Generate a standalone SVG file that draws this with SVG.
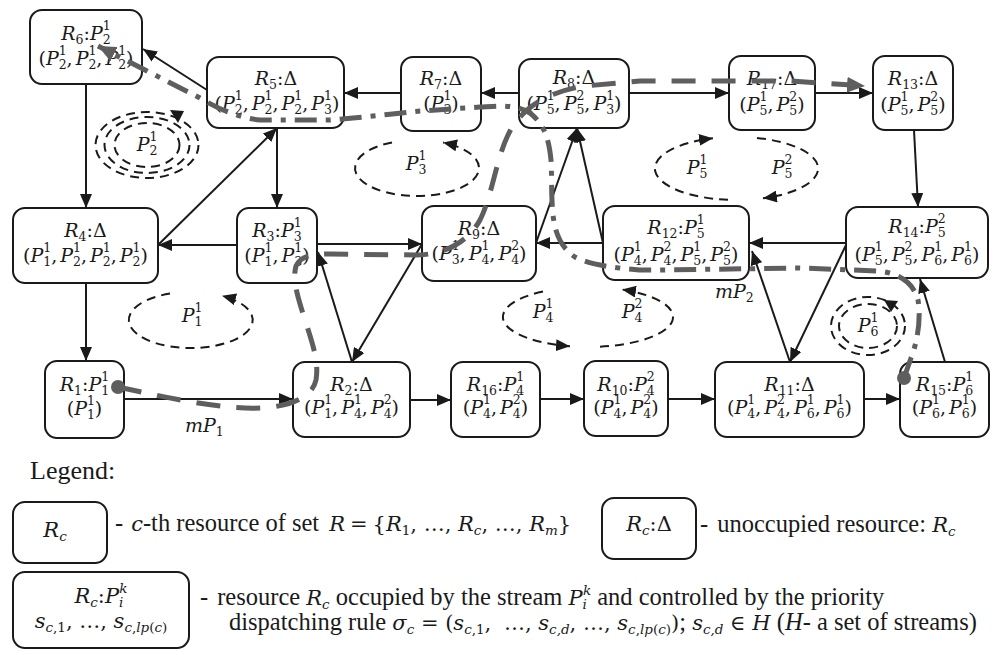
<svg xmlns="http://www.w3.org/2000/svg" width="995" height="655" viewBox="0 0 995 655">
<style>
.box{fill:#fff;stroke:#1a1a1a;stroke-width:2}
.t{font-family:"DejaVu Serif",serif;font-size:19px;text-anchor:middle;fill:#1a1a1a}
.i{font-style:italic}
.s{font-size:12.5px}
.e{fill:none;stroke:#1a1a1a;stroke-width:2;stroke-dasharray:9 6}
.ea{fill:none;stroke:#1a1a1a;stroke-width:2;stroke-dasharray:9 6;marker-end:url(#ah)}
.c{fill:none;stroke:#1a1a1a;stroke-width:2;marker-end:url(#ah)}
.g1{fill:none;stroke:#5e5e5e;stroke-width:5;stroke-dasharray:24 16;marker-end:url(#ga)}
.g2{fill:none;stroke:#5e5e5e;stroke-width:5;stroke-dasharray:22 9 5 9;marker-end:url(#ga)}
.lg{font-family:"Liberation Serif","Times New Roman",serif;font-size:24.5px;fill:#1a1a1a}
.lm{font-family:"DejaVu Serif",serif;font-size:21px}
.ls{font-size:13.5px}
</style>
<defs>
<marker id="ah" viewBox="0 0 14 12" refX="14" refY="6" markerWidth="14" markerHeight="12" orient="auto" markerUnits="userSpaceOnUse"><path d="M0,0 L14,6 L0,12 z" fill="#1a1a1a"/></marker>
<marker id="ga" viewBox="0 0 18 16" refX="18" refY="8" markerWidth="18" markerHeight="16" orient="auto" markerUnits="userSpaceOnUse"><path d="M0,0 L18,8 L0,16 z" fill="#5e5e5e"/></marker>
</defs>

<g id="connectors">
<path class="c" d="M207,90 L143,49"/>
<path class="c" d="M86,84 L86,208"/>
<path class="c" d="M158,245 L277,128"/>
<path class="c" d="M277,128 L277,208"/>
<path class="c" d="M237,245 L158,245"/>
<path class="c" d="M401,93 L344,93"/>
<path class="c" d="M519,93 L481,93"/>
<path class="c" d="M629,93 L729,93"/>
<path class="c" d="M815,93 L873,93"/>
<path class="c" d="M914,130 L918,207"/>
<path class="c" d="M846,243 L749,243"/>
<path class="c" d="M603,243 L536,243"/>
<path class="c" d="M536,243 L577,128"/>
<path class="c" d="M603,243 L577,128"/>
<path class="c" d="M317,244 L422,244"/>
<path class="c" d="M422,244 L352,362"/>
<path class="c" d="M352,362 L318,252"/>
<path class="c" d="M86,283 L86,361"/>
<path class="c" d="M124,399 L293,399"/>
<path class="c" d="M410,400 L451,400"/>
<path class="c" d="M540,399 L584,399"/>
<path class="c" d="M668,399 L715,399"/>
<path class="c" d="M864,399 L900,399"/>
<path class="c" d="M945,362 L920,279"/>
<path class="c" d="M846,245 L790,362"/>
<path class="c" d="M790,362 L752,251"/>
</g>

<g id="R6"><rect class="box" x="30" y="10" width="112" height="74" rx="12"/>
<text class="t" x="86" y="40"><tspan class="i">R</tspan><tspan class="s" dy="4">6</tspan><tspan dy="-4">:</tspan><tspan class="i">P</tspan><tspan class="s" dy="4">2</tspan><tspan class="s" dx="-8" dy="-14">1</tspan></text>
<text class="t" x="86" y="65">(<tspan class="i">P</tspan><tspan class="s" dy="4">2</tspan><tspan class="s" dx="-8" dy="-14">1</tspan><tspan dy="10">,</tspan><tspan class="i" dx="3">P</tspan><tspan class="s" dy="4">2</tspan><tspan class="s" dx="-8" dy="-14">1</tspan><tspan dy="10">,</tspan><tspan class="i" dx="3">P</tspan><tspan class="s" dy="4">2</tspan><tspan class="s" dx="-8" dy="-14">1</tspan><tspan dy="10">)</tspan></text></g>

<g id="R5"><rect class="box" x="207" y="57" width="137" height="71" rx="12"/>
<text class="t" x="276" y="85"><tspan class="i">R</tspan><tspan class="s" dy="4">5</tspan><tspan dy="-4">:Δ</tspan></text>
<text class="t" x="277" y="110">(<tspan class="i">P</tspan><tspan class="s" dy="4">2</tspan><tspan class="s" dx="-8" dy="-14">1</tspan><tspan dy="10">,</tspan><tspan class="i" dx="3">P</tspan><tspan class="s" dy="4">2</tspan><tspan class="s" dx="-8" dy="-14">1</tspan><tspan dy="10">,</tspan><tspan class="i" dx="3">P</tspan><tspan class="s" dy="4">2</tspan><tspan class="s" dx="-8" dy="-14">1</tspan><tspan dy="10">,</tspan><tspan class="i" dx="3">P</tspan><tspan class="s" dy="4">3</tspan><tspan class="s" dx="-8" dy="-14">1</tspan><tspan dy="10">)</tspan></text></g>

<g id="R7"><rect class="box" x="401" y="57" width="80" height="74" rx="12"/>
<text class="t" x="441" y="85"><tspan class="i">R</tspan><tspan class="s" dy="4">7</tspan><tspan dy="-4">:Δ</tspan></text>
<text class="t" x="441" y="110">(<tspan class="i">P</tspan><tspan class="s" dy="4">3</tspan><tspan class="s" dx="-8" dy="-14">1</tspan><tspan dy="10">)</tspan></text></g>

<g id="R8"><rect class="box" x="519" y="59" width="110" height="69" rx="12"/>
<text class="t" x="574" y="84"><tspan class="i">R</tspan><tspan class="s" dy="4">8</tspan><tspan dy="-4">:Δ</tspan></text>
<text class="t" x="574" y="110">(<tspan class="i">P</tspan><tspan class="s" dy="4">5</tspan><tspan class="s" dx="-8" dy="-14">1</tspan><tspan dy="10">,</tspan><tspan class="i" dx="3">P</tspan><tspan class="s" dy="4">5</tspan><tspan class="s" dx="-8" dy="-14">2</tspan><tspan dy="10">,</tspan><tspan class="i" dx="3">P</tspan><tspan class="s" dy="4">3</tspan><tspan class="s" dx="-8" dy="-14">1</tspan><tspan dy="10">)</tspan></text></g>

<g id="R17"><rect class="box" x="729" y="56" width="86" height="74" rx="12"/>
<text class="t" x="772" y="85"><tspan class="i">R</tspan><tspan class="s" dy="4">17</tspan><tspan dy="-4">:Δ</tspan></text>
<text class="t" x="772" y="111">(<tspan class="i">P</tspan><tspan class="s" dy="4">5</tspan><tspan class="s" dx="-8" dy="-14">1</tspan><tspan dy="10">,</tspan><tspan class="i" dx="3">P</tspan><tspan class="s" dy="4">5</tspan><tspan class="s" dx="-8" dy="-14">2</tspan><tspan dy="10">)</tspan></text></g>

<g id="R13"><rect class="box" x="873" y="56" width="80" height="74" rx="12"/>
<text class="t" x="913" y="85"><tspan class="i">R</tspan><tspan class="s" dy="4">13</tspan><tspan dy="-4">:Δ</tspan></text>
<text class="t" x="913" y="111">(<tspan class="i">P</tspan><tspan class="s" dy="4">5</tspan><tspan class="s" dx="-8" dy="-14">1</tspan><tspan dy="10">,</tspan><tspan class="i" dx="3">P</tspan><tspan class="s" dy="4">5</tspan><tspan class="s" dx="-8" dy="-14">2</tspan><tspan dy="10">)</tspan></text></g>

<g id="R4"><rect class="box" x="13" y="208" width="145" height="75" rx="12"/>
<text class="t" x="85.5" y="237"><tspan class="i">R</tspan><tspan class="s" dy="4">4</tspan><tspan dy="-4">:Δ</tspan></text>
<text class="t" x="85.5" y="262">(<tspan class="i">P</tspan><tspan class="s" dy="4">1</tspan><tspan class="s" dx="-8" dy="-14">1</tspan><tspan dy="10">,</tspan><tspan class="i" dx="3">P</tspan><tspan class="s" dy="4">2</tspan><tspan class="s" dx="-8" dy="-14">1</tspan><tspan dy="10">,</tspan><tspan class="i" dx="3">P</tspan><tspan class="s" dy="4">2</tspan><tspan class="s" dx="-8" dy="-14">1</tspan><tspan dy="10">,</tspan><tspan class="i" dx="3">P</tspan><tspan class="s" dy="4">2</tspan><tspan class="s" dx="-8" dy="-14">1</tspan><tspan dy="10">)</tspan></text></g>

<g id="R3"><rect class="box" x="237" y="208" width="80" height="75" rx="12"/>
<text class="t" x="277" y="237"><tspan class="i">R</tspan><tspan class="s" dy="4">3</tspan><tspan dy="-4">:</tspan><tspan class="i">P</tspan><tspan class="s" dy="4">3</tspan><tspan class="s" dx="-8" dy="-14">1</tspan></text>
<text class="t" x="277" y="262">(<tspan class="i">P</tspan><tspan class="s" dy="4">1</tspan><tspan class="s" dx="-8" dy="-14">1</tspan><tspan dy="10">,</tspan><tspan class="i" dx="3">P</tspan><tspan class="s" dy="4">3</tspan><tspan class="s" dx="-8" dy="-14">1</tspan><tspan dy="10">)</tspan></text></g>

<g id="R9"><rect class="box" x="422" y="206" width="114" height="75" rx="12"/>
<text class="t" x="479" y="235"><tspan class="i">R</tspan><tspan class="s" dy="4">9</tspan><tspan dy="-4">:Δ</tspan></text>
<text class="t" x="479" y="260">(<tspan class="i">P</tspan><tspan class="s" dy="4">3</tspan><tspan class="s" dx="-8" dy="-14">1</tspan><tspan dy="10">,</tspan><tspan class="i" dx="3">P</tspan><tspan class="s" dy="4">4</tspan><tspan class="s" dx="-8" dy="-14">1</tspan><tspan dy="10">,</tspan><tspan class="i" dx="3">P</tspan><tspan class="s" dy="4">4</tspan><tspan class="s" dx="-8" dy="-14">2</tspan><tspan dy="10">)</tspan></text></g>

<g id="R12"><rect class="box" x="603" y="206" width="146" height="74" rx="12"/>
<text class="t" x="676" y="234"><tspan class="i">R</tspan><tspan class="s" dy="4">12</tspan><tspan dy="-4">:</tspan><tspan class="i">P</tspan><tspan class="s" dy="4">5</tspan><tspan class="s" dx="-8" dy="-14">1</tspan></text>
<text class="t" x="676" y="261">(<tspan class="i">P</tspan><tspan class="s" dy="4">4</tspan><tspan class="s" dx="-8" dy="-14">1</tspan><tspan dy="10">,</tspan><tspan class="i" dx="3">P</tspan><tspan class="s" dy="4">4</tspan><tspan class="s" dx="-8" dy="-14">2</tspan><tspan dy="10">,</tspan><tspan class="i" dx="3">P</tspan><tspan class="s" dy="4">5</tspan><tspan class="s" dx="-8" dy="-14">1</tspan><tspan dy="10">,</tspan><tspan class="i" dx="3">P</tspan><tspan class="s" dy="4">5</tspan><tspan class="s" dx="-8" dy="-14">2</tspan><tspan dy="10">)</tspan></text></g>

<g id="R14"><rect class="box" x="846" y="207" width="142" height="71" rx="12"/>
<text class="t" x="917" y="233"><tspan class="i">R</tspan><tspan class="s" dy="4">14</tspan><tspan dy="-4">:</tspan><tspan class="i">P</tspan><tspan class="s" dy="4">5</tspan><tspan class="s" dx="-8" dy="-14">2</tspan></text>
<text class="t" x="917" y="261">(<tspan class="i">P</tspan><tspan class="s" dy="4">5</tspan><tspan class="s" dx="-8" dy="-14">1</tspan><tspan dy="10">,</tspan><tspan class="i" dx="3">P</tspan><tspan class="s" dy="4">5</tspan><tspan class="s" dx="-8" dy="-14">2</tspan><tspan dy="10">,</tspan><tspan class="i" dx="3">P</tspan><tspan class="s" dy="4">6</tspan><tspan class="s" dx="-8" dy="-14">1</tspan><tspan dy="10">,</tspan><tspan class="i" dx="3">P</tspan><tspan class="s" dy="4">6</tspan><tspan class="s" dx="-8" dy="-14">1</tspan><tspan dy="10">)</tspan></text></g>

<g id="R1"><rect class="box" x="45" y="361" width="79" height="77" rx="12"/>
<text class="t" x="84.5" y="391"><tspan class="i">R</tspan><tspan class="s" dy="4">1</tspan><tspan dy="-4">:</tspan><tspan class="i">P</tspan><tspan class="s" dy="4">1</tspan><tspan class="s" dx="-8" dy="-14">1</tspan></text>
<text class="t" x="84.5" y="415">(<tspan class="i">P</tspan><tspan class="s" dy="4">1</tspan><tspan class="s" dx="-8" dy="-14">1</tspan><tspan dy="10">)</tspan></text></g>

<g id="R2"><rect class="box" x="293" y="362" width="117" height="75" rx="12"/>
<text class="t" x="351.5" y="391"><tspan class="i">R</tspan><tspan class="s" dy="4">2</tspan><tspan dy="-4">:Δ</tspan></text>
<text class="t" x="351.5" y="414">(<tspan class="i">P</tspan><tspan class="s" dy="4">1</tspan><tspan class="s" dx="-8" dy="-14">1</tspan><tspan dy="10">,</tspan><tspan class="i" dx="3">P</tspan><tspan class="s" dy="4">4</tspan><tspan class="s" dx="-8" dy="-14">1</tspan><tspan dy="10">,</tspan><tspan class="i" dx="3">P</tspan><tspan class="s" dy="4">4</tspan><tspan class="s" dx="-8" dy="-14">2</tspan><tspan dy="10">)</tspan></text></g>

<g id="R16"><rect class="box" x="451" y="362" width="89" height="75" rx="12"/>
<text class="t" x="495.5" y="391"><tspan class="i">R</tspan><tspan class="s" dy="4">16</tspan><tspan dy="-4">:</tspan><tspan class="i">P</tspan><tspan class="s" dy="4">4</tspan><tspan class="s" dx="-8" dy="-14">1</tspan></text>
<text class="t" x="495.5" y="414">(<tspan class="i">P</tspan><tspan class="s" dy="4">4</tspan><tspan class="s" dx="-8" dy="-14">1</tspan><tspan dy="10">,</tspan><tspan class="i" dx="3">P</tspan><tspan class="s" dy="4">4</tspan><tspan class="s" dx="-8" dy="-14">2</tspan><tspan dy="10">)</tspan></text></g>

<g id="R10"><rect class="box" x="584" y="361" width="84" height="75" rx="12"/>
<text class="t" x="626" y="391"><tspan class="i">R</tspan><tspan class="s" dy="4">10</tspan><tspan dy="-4">:</tspan><tspan class="i">P</tspan><tspan class="s" dy="4">4</tspan><tspan class="s" dx="-8" dy="-14">2</tspan></text>
<text class="t" x="626" y="414">(<tspan class="i">P</tspan><tspan class="s" dy="4">4</tspan><tspan class="s" dx="-8" dy="-14">1</tspan><tspan dy="10">,</tspan><tspan class="i" dx="3">P</tspan><tspan class="s" dy="4">4</tspan><tspan class="s" dx="-8" dy="-14">2</tspan><tspan dy="10">)</tspan></text></g>

<g id="R11"><rect class="box" x="715" y="362" width="149" height="75" rx="12"/>
<text class="t" x="789.5" y="391"><tspan class="i">R</tspan><tspan class="s" dy="4">11</tspan><tspan dy="-4">:Δ</tspan></text>
<text class="t" x="789.5" y="414">(<tspan class="i">P</tspan><tspan class="s" dy="4">4</tspan><tspan class="s" dx="-8" dy="-14">1</tspan><tspan dy="10">,</tspan><tspan class="i" dx="3">P</tspan><tspan class="s" dy="4">4</tspan><tspan class="s" dx="-8" dy="-14">2</tspan><tspan dy="10">,</tspan><tspan class="i" dx="3">P</tspan><tspan class="s" dy="4">6</tspan><tspan class="s" dx="-8" dy="-14">1</tspan><tspan dy="10">,</tspan><tspan class="i" dx="3">P</tspan><tspan class="s" dy="4">6</tspan><tspan class="s" dx="-8" dy="-14">1</tspan><tspan dy="10">)</tspan></text></g>

<g id="R15"><rect class="box" x="900" y="362" width="89" height="75" rx="12"/>
<text class="t" x="944.5" y="391"><tspan class="i">R</tspan><tspan class="s" dy="4">15</tspan><tspan dy="-4">:</tspan><tspan class="i">P</tspan><tspan class="s" dy="4">6</tspan><tspan class="s" dx="-8" dy="-14">1</tspan></text>
<text class="t" x="944.5" y="414">(<tspan class="i">P</tspan><tspan class="s" dy="4">6</tspan><tspan class="s" dx="-8" dy="-14">1</tspan><tspan dy="10">,</tspan><tspan class="i" dx="3">P</tspan><tspan class="s" dy="4">6</tspan><tspan class="s" dx="-8" dy="-14">1</tspan><tspan dy="10">)</tspan></text></g>

<g id="cycles">
<ellipse class="e" cx="147" cy="145" rx="51.5" ry="33"/>
<ellipse class="e" cx="147" cy="145" rx="42.5" ry="28"/>
<ellipse class="e" cx="147" cy="145" rx="32.5" ry="22"/>
<polygon points="170,110 184,111 178,123" fill="#1a1a1a"/>
<text class="t" x="147" y="151"><tspan class="i">P</tspan><tspan class="s" dy="4">2</tspan><tspan class="s" dx="-8" dy="-14">1</tspan></text>
<path class="ea" d="M392,142.4 A62,28 0 1 0 443,142.6"/>
<text class="t" x="416" y="170"><tspan class="i">P</tspan><tspan class="s" dy="4">3</tspan><tspan class="s" dx="-8" dy="-14">1</tspan></text>
<path class="ea" d="M728,199.8 A81.5,31.5 0 0 1 713,138.3"/>
<path class="ea" d="M757,138 A81.5,31.5 0 0 1 763,198.3"/>
<text class="t" x="697" y="174"><tspan class="i">P</tspan><tspan class="s" dy="4">5</tspan><tspan class="s" dx="-8" dy="-14">1</tspan></text>
<text class="t" x="782" y="174"><tspan class="i">P</tspan><tspan class="s" dy="4">5</tspan><tspan class="s" dx="-8" dy="-14">2</tspan></text>
<path class="ea" d="M170,293.6 A62,28 0 1 0 222,295.8"/>
<text class="t" x="192" y="322"><tspan class="i">P</tspan><tspan class="s" dy="4">1</tspan><tspan class="s" dx="-8" dy="-14">1</tspan></text>
<path class="ea" d="M600,346.7 A85,30 0 0 0 622,289.5"/>
<path class="ea" d="M543,291.5 A85,30 0 0 0 570,346.3"/>
<text class="t" x="543" y="318"><tspan class="i">P</tspan><tspan class="s" dy="4">4</tspan><tspan class="s" dx="-8" dy="-14">1</tspan></text>
<text class="t" x="632" y="318"><tspan class="i">P</tspan><tspan class="s" dy="4">4</tspan><tspan class="s" dx="-8" dy="-14">2</tspan></text>
<ellipse class="e" cx="868" cy="326" rx="37" ry="29"/>
<ellipse class="e" cx="868" cy="326" rx="29" ry="22"/>
<polygon points="884,300 898,301 891,312" fill="#1a1a1a"/>
<text class="t" x="868" y="332"><tspan class="i">P</tspan><tspan class="s" dy="4">6</tspan><tspan class="s" dx="-8" dy="-14">1</tspan></text>
</g>

<g id="paths">
<path class="g1" d="M118,387 C160,396 220,410 262,408 C290,406 312,398 316,380 C319,362 313,345 305,320 C298,298 292,280 296,266 C300,257 310,254 330,254 L415,255 C445,255 468,242 480,220 C492,196 496,160 508,135 C520,110 545,92 585,86 L640,81 L790,81 L865,86"/>
<circle cx="118" cy="387" r="7" fill="#5e5e5e"/>
<path class="g2" d="M904,378 L911,358 C918,340 921,318 918,300 C914,284 900,273 878,271 L800,268 L660,270 L640,270 C615,268 590,265 575,257 C560,247 555,232 553,215 C551,195 552,175 551,160 C549,140 545,125 530,113 C515,104 500,106 480,107 L420,111 C390,114 360,118 330,120 L260,120 C240,118 220,110 200,98 L98,46"/>
<circle cx="904" cy="378" r="7" fill="#5e5e5e"/>
<text class="t" x="185" y="432" style="text-anchor:start"><tspan class="i">mP</tspan><tspan class="s" dy="4">1</tspan></text>
<text class="t" x="715" y="298" style="text-anchor:start"><tspan class="i">mP</tspan><tspan class="s" dy="4">2</tspan></text>
</g>

<g id="legend">
<text class="lg" x="30" y="479" style="font-size:26px">Legend:</text>
<rect class="box" x="13" y="502" width="94" height="61" rx="12"/>
<text class="lg lm" x="55" y="537" text-anchor="middle"><tspan class="i">R</tspan><tspan class="ls i" dy="4">c</tspan></text>
<text class="lg" x="115" y="531">-<tspan class="lm i" dx="8">c</tspan>-th resource of set<tspan class="lm" dx="10"><tspan class="i">R</tspan><tspan dx="5">=</tspan><tspan dx="5">{</tspan><tspan class="i">R</tspan><tspan class="ls" dy="4">1</tspan><tspan dy="-4">, …, </tspan><tspan class="i">R</tspan><tspan class="ls i" dy="4">c</tspan><tspan dy="-4">, …, </tspan><tspan class="i">R</tspan><tspan class="ls i" dy="4">m</tspan><tspan dy="-4">}</tspan></tspan></text>
<rect class="box" x="602" y="498" width="94" height="61" rx="12"/>
<text class="lg lm" x="649" y="531" text-anchor="middle"><tspan class="i">R</tspan><tspan class="ls i" dy="4">c</tspan><tspan dy="-4">:Δ</tspan></text>
<text class="lg" x="700" y="532">-<tspan dx="9">unoccupied resource: </tspan><tspan class="lm i">R</tspan><tspan class="lm ls i" dy="4">c</tspan></text>
<rect class="box" x="13" y="572" width="176" height="76" rx="12"/>
<text class="lg lm" x="101" y="603" text-anchor="middle"><tspan class="i">R</tspan><tspan class="ls i" dy="4">c</tspan><tspan dy="-4">:</tspan><tspan class="i">P</tspan><tspan class="ls i" dy="4">i</tspan><tspan class="ls i" dx="-4" dy="-14">k</tspan></text>
<text class="lg lm" x="101" y="628" text-anchor="middle"><tspan class="i">s</tspan><tspan class="ls" dy="4"><tspan class="i">c</tspan>,1</tspan><tspan dy="-4">, …, </tspan><tspan class="i">s</tspan><tspan class="ls" dy="4"><tspan class="i">c</tspan>,<tspan class="i">lp</tspan>(<tspan class="i">c</tspan>)</tspan></text>
<text class="lg" x="200" y="605">-<tspan dx="9">resource </tspan><tspan class="lm i">R</tspan><tspan class="lm ls i" dy="4">c</tspan><tspan dy="-4"> occupied by the stream </tspan><tspan class="lm i">P</tspan><tspan class="lm ls i" dy="4">i</tspan><tspan class="lm ls i" dx="-4" dy="-14">k</tspan><tspan dy="10"> and controlled by the priority</tspan></text>
<text class="lg" x="229" y="630">dispatching rule <tspan class="lm"><tspan class="i">σ</tspan><tspan class="ls i" dy="4">c</tspan><tspan dy="-4"> = (</tspan><tspan class="i">s</tspan><tspan class="ls" dy="4"><tspan class="i">c</tspan>,1</tspan><tspan dy="-4">, </tspan><tspan dx="6">…, </tspan><tspan class="i">s</tspan><tspan class="ls i" dy="4">c,d</tspan><tspan dy="-4">, …, </tspan><tspan class="i">s</tspan><tspan class="ls" dy="4"><tspan class="i">c</tspan>,<tspan class="i">lp</tspan>(<tspan class="i">c</tspan>)</tspan><tspan dy="-4">)</tspan></tspan>; <tspan class="lm"><tspan class="i">s</tspan><tspan class="ls i" dy="4">c,d</tspan><tspan dy="-4"> ∈ </tspan><tspan class="i">H</tspan></tspan> (<tspan class="i">H</tspan>- a set of streams)</text>
</g>
</svg>
